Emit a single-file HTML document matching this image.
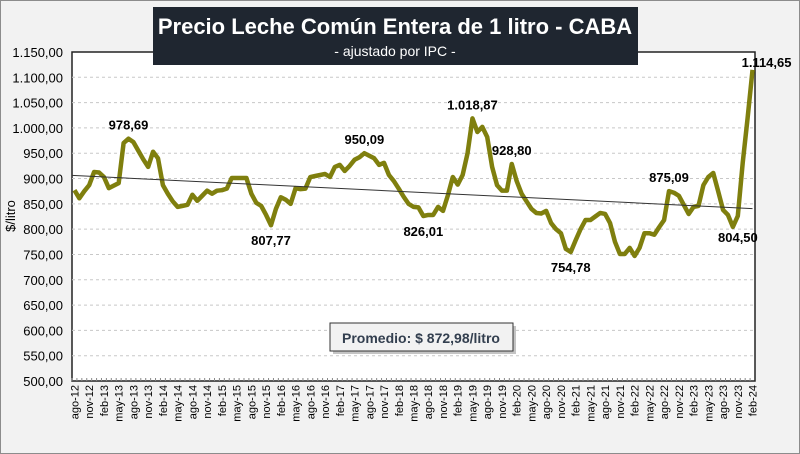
<!DOCTYPE html>
<html><head><meta charset="utf-8"><style>
body{margin:0;background:#fff;}
svg{display:block;font-family:"Liberation Sans",sans-serif;}
</style></head><body>
<svg id="c" width="800" height="454" viewBox="0 0 800 454" xmlns="http://www.w3.org/2000/svg">
<rect x="0.5" y="0.5" width="799" height="453" fill="#f2f2f2" stroke="#8c8c8c"/>
<rect x="72" y="52" width="683" height="329" fill="#fff" stroke="#222" stroke-width="1.5"/>
<g id="grid"></g>
<g id="yt"></g>
<g id="xt"></g>
<text x="0" y="0" transform="translate(15,216) rotate(-90)" text-anchor="middle" font-size="13" fill="#000">$/litro</text>
<g id="series"></g>
<g id="labels"></g>
<g>
<rect x="153" y="7" width="485" height="58" fill="#1f2630"/>
<text x="395" y="34" text-anchor="middle" font-size="22" font-weight="bold" fill="#fff">Precio Leche Común Entera de 1 litro - CABA</text>
<text x="395" y="56" text-anchor="middle" font-size="14" fill="#fff">- ajustado por IPC -</text>
</g>
<g>
<rect x="333" y="326" width="183" height="28" fill="#555" opacity="0.35"/>
<rect x="330" y="323" width="183" height="28" fill="#f2f2f2" stroke="#333"/>
<text x="421" y="343" text-anchor="middle" font-size="14" font-weight="bold" fill="#333f4f">Promedio: $ 872,98/litro</text>
</g>
</svg>
<script>
const values=[877,861,875,887,913,912,903,881,886,891,970,978.69,972,955,938,923,953,940,887,870,855,844,846,848,868,856,866,876,870,876,877,880,901,901,901,901,870,852,846,828,807.77,840,863,858,850,881,879,880,903,905,907,909,903,923,927,915,925,937,942,950.09,945,940,927,931,907,895,880,864,850,844,843,826.01,828,828,844,836,867,903,888,907,950,1018.87,992,1002,982,923,887,876,876,928.80,895,870,855,840,832,831,836,812,800,792,761,754.78,778,800,818,818,825,832,830,812,775,751,751,763,747,763,792,792,789,804,818,875.09,872,866,848,830,844,846,887,903,911,875,838,828,804.50,826,931,1020,1114.65];
const monthNames=["ene","feb","mar","abr","may","jun","jul","ago","sep","oct","nov","dic"];
const startMonth=7, startYear=12;
const yTicks=[500,550,600,650,700,750,800,850,900,950,1000,1050,1100,1150];
const labeledIdx=[11,40,59,71,81,89,101,121,134,138];
const labelPos=["above","below","above","below","above","above","below","above","below","above"];
const NS="http://www.w3.org/2000/svg";
const L=72,R=755,T=52,B=381,yMin=500,yMax=1150;
const band=(R-L)/values.length;
const xs=i=>L+band*(i+0.5);
const ys=v=>B-(v-yMin)/(yMax-yMin)*(B-T);
function mk(tag,attrs,parent,txt){const e=document.createElementNS(NS,tag);for(const k in attrs)e.setAttribute(k,attrs[k]);if(txt!==undefined)e.textContent=txt;parent.appendChild(e);return e;}
const fmt=v=>{const p=v.toFixed(2).split('.');return p[0].replace(/\B(?=(\d{3})+(?!\d))/g,'.')+','+p[1];};
const grid=document.getElementById('grid'),yt=document.getElementById('yt'),xt=document.getElementById('xt');
yTicks.forEach(v=>{
 if(v>yMin&&v<yMax){const g=mk('line',{x1:L,x2:R,y1:ys(v),y2:ys(v),stroke:'#c8c8c8','stroke-dasharray':'3,3'},grid);
 
 }
 const t=mk('text',{x:63,y:ys(v)+5,'text-anchor':'end','font-size':13,fill:'#000'},yt,fmt(v));
 
 
});
for(let i=0;i<values.length;i++){
 const tk=mk('line',{x1:xs(i)-band/2,x2:xs(i)-band/2,y1:B,y2:B-3,stroke:'#888'},xt);
 
 
 if(i%3===0){const m=(startMonth+i)%12,yr=startYear+Math.floor((startMonth+i)/12);
  const t=mk('text',{transform:`translate(${xs(i)+4},385) rotate(-90)`,'text-anchor':'end','font-size':11,fill:'#000'},xt,monthNames[m]+'-'+yr);
  
  }
}
const s=document.getElementById('series');
let n=values.length,sx=0,sy=0,sxy=0,sxx=0;values.forEach((v,i)=>{sx+=i;sy+=v;sxy+=i*v;sxx+=i*i;});
const slope=(n*sxy-sx*sy)/(n*sxx-sx*sx),ic=(sy-slope*sx)/n;
const ln=mk('polyline',{points:values.map((v,i)=>xs(i)+','+ys(v)).join(' '),fill:'none',stroke:'#7f7f0e','stroke-width':4.5,'stroke-linejoin':'round'},s);


const tr=mk('line',{x1:L,y1:ys(ic+slope*(-0.5)),x2:xs(n-1),y2:ys(ic+slope*(n-1)),stroke:'#333','stroke-width':1},s);


const lg=document.getElementById('labels');
labeledIdx.forEach((i,k)=>{
 const x=xs(i),y=ys(values[i]);
 let ty=labelPos[k]==='above'?y-9:y+20;
 if(i===138) ty=y-3;
 if(i===134) ty=y+15;
 const t=mk('text',{x:i===138?x+14:(i===134?x+5:x),y:ty,'text-anchor':'middle','font-size':13,'font-weight':'bold',fill:'#000'},lg,fmt(values[i]));
 
 
});
</script>
</body></html>
